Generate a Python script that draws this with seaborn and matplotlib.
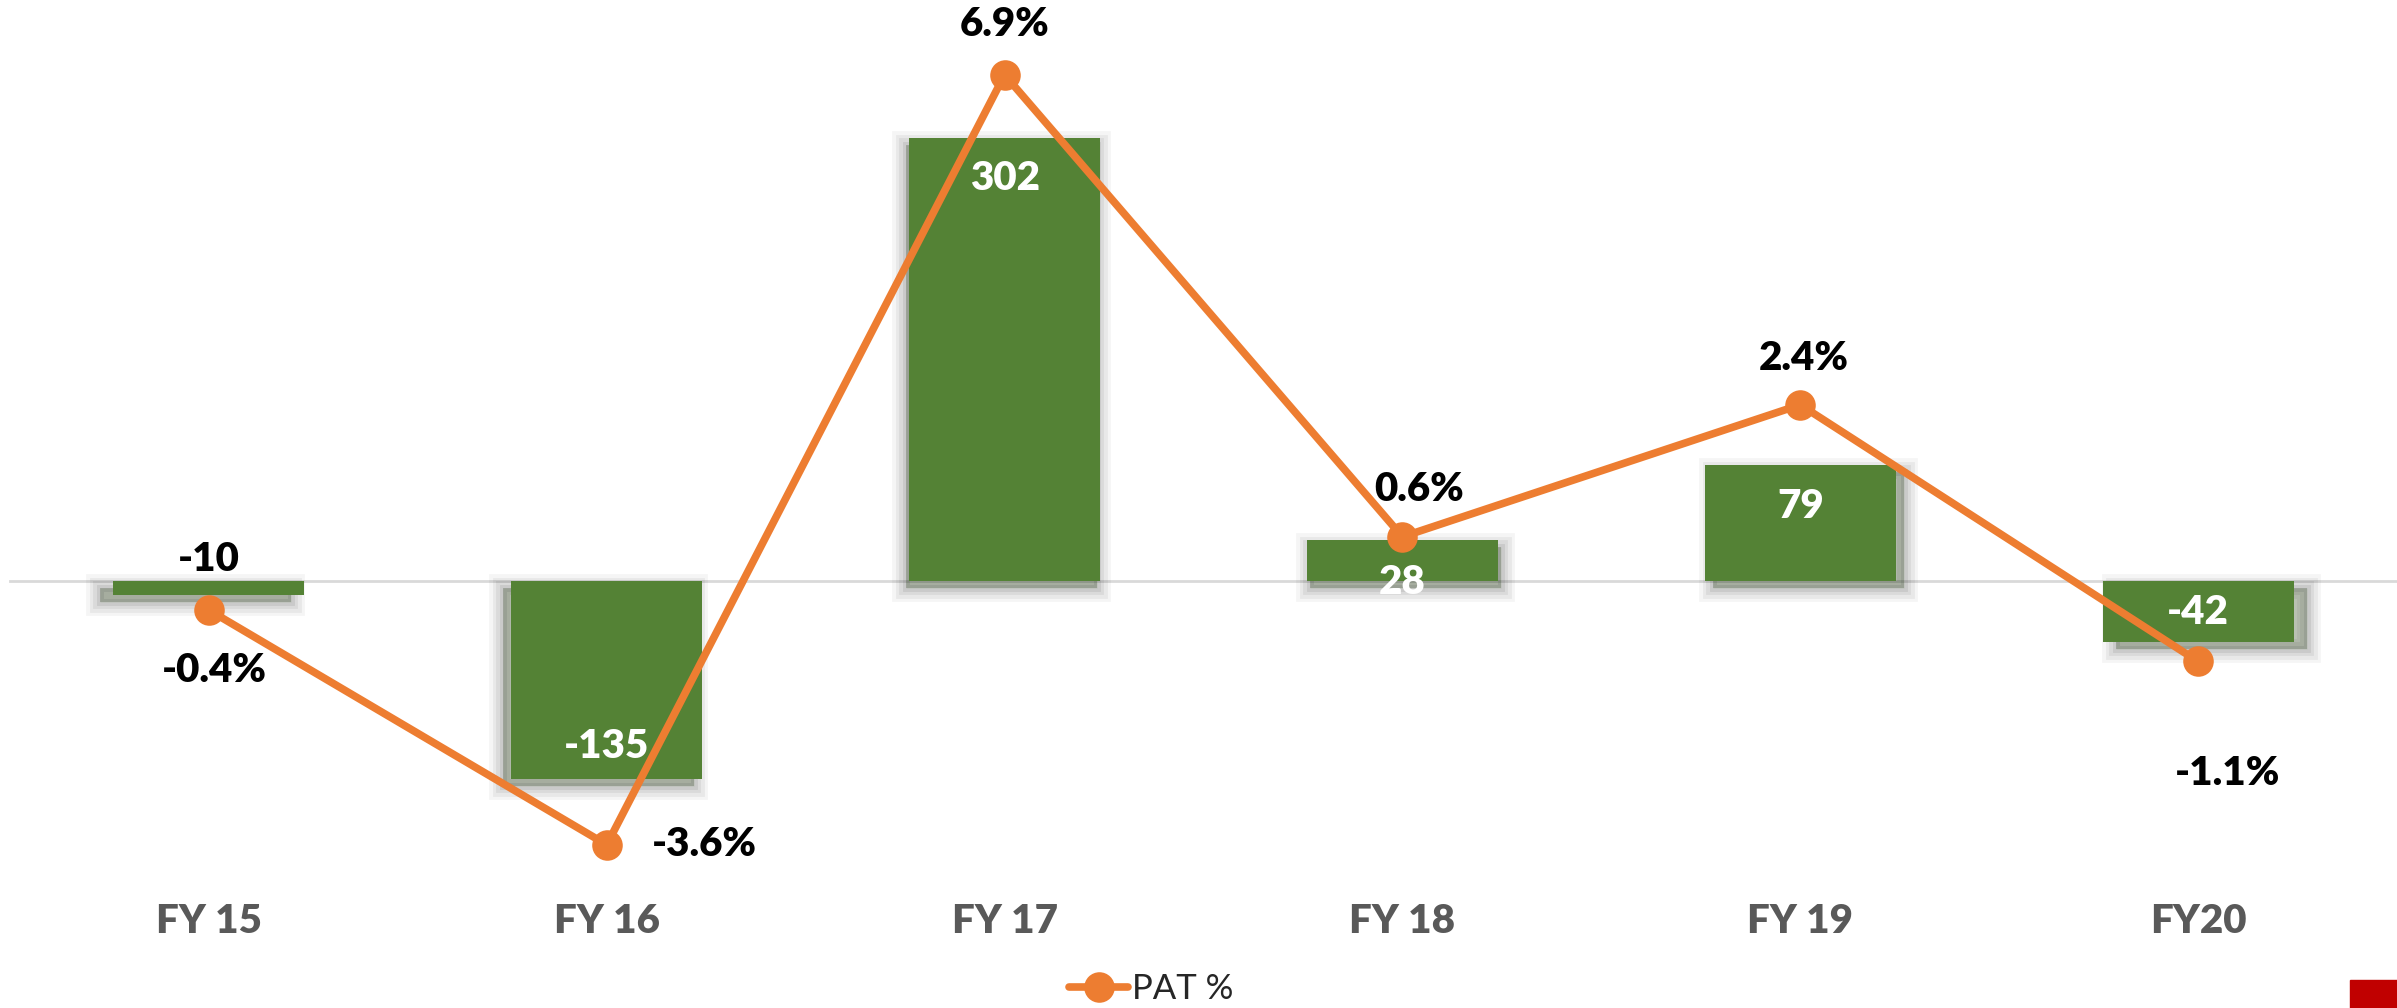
import numpy as np
import matplotlib
matplotlib.use("Agg")
import matplotlib.pyplot as plt
import matplotlib.patheffects as pe
from matplotlib.patches import Rectangle
import seaborn as sns

# data
years = ["FY 15", "FY 16", "FY 17", "FY 18", "FY 19", "FY20"]
pat = [-10, -135, 302, 28, 79, -42]          # PAT (bars)
pat_pct = [-0.4, -3.6, 6.9, 0.6, 2.4, -1.1]  # PAT % (line)
pct_labels = ["-0.4%", "-3.6%", "6.9%", "0.6%", "2.4%", "-1.1%"]

GREEN = "#548235"
ORANGE = "#ED7D31"
GREY = "#595959"

sns.set_style("white")
plt.rcParams["font.family"] = ["Lato", "DejaVu Sans"]

fig = plt.figure(figsize=(23.97, 10.08), dpi=100)
ax = fig.add_axes([10 / 2397, 1 - 880 / 1008, 2387 / 2397, 880 / 1008])

pos = np.arange(len(years))
sns.barplot(x=pos, y=pat, color=GREEN, width=0.48, saturation=1, ax=ax,
            native_scale=True)
ax.set_xlim(-0.5, len(years) - 0.5)
ax.set_ylim(-204, 396)

# soft drop shadow, pushed outwards from the middle of the chart
for i, p in enumerate(ax.patches):
    dx = (i - 2.5) * 4
    dy = -5
    fx = [pe.Stroke(offset=(dx, dy), linewidth=w, foreground="#000000", alpha=a)
          for w, a in [(20, 0.04), (15, 0.05), (10, 0.06), (5, 0.07)]]
    fx += [pe.SimplePatchShadow(offset=(dx, dy), shadow_rgbFace="#000000", alpha=0.12),
           pe.Normal()]
    p.set_path_effects(fx)
    p.set_linewidth(0)

# zero line with boundary ticks
for s in ["top", "right", "left"]:
    ax.spines[s].set_visible(False)
ax.spines["bottom"].set_position(("data", 0))
ax.spines["bottom"].set_color("#D9D9D9")
ax.spines["bottom"].set_linewidth(2)
ax.spines["bottom"].set_zorder(0.5)
ax.set_yticks([])
ax.set_xticks(pos)
ax.set_xticklabels(years, fontsize=29, fontweight="heavy", color=GREY)
ax.tick_params(axis="x", which="major", length=0, pad=232)
ax.set_xticks(pos[:-1] + 0.5, minor=True)
ax.tick_params(axis="x", which="minor", length=10, width=1.5, color="#D9D9D9",
               direction="out")

# line on secondary axis
ax2 = ax.twinx()
ax2.set_ylim(-204 / 50, 396 / 50)
sns.lineplot(x=pos, y=pat_pct, color=ORANGE, linewidth=5.5, marker="o",
             markersize=22, markeredgewidth=0, label="PAT %", ax=ax2,
             legend=False)
ax2.set_xlim(-0.5, len(years) - 0.5)
ax2.axis("off")

# bar value labels (inside end, -10 sits above the axis)
bar_off = [36, 32, -41, -43, -42, 30]
for i, v in enumerate(pat):
    col = "black" if i == 0 else "white"
    ax2.annotate(str(v), xy=(i, v), xycoords=ax.transData,
                 xytext=(0, bar_off[i]), textcoords="offset pixels",
                 ha="center", va="center", fontsize=29, fontweight="heavy",
                 color=col, zorder=10)

# percent labels
pct_off = [(5, -60), (98, 0), (0, 50), (17, 47), (3, 46), (29, -112)]
for i, v in enumerate(pat_pct):
    ax2.annotate(pct_labels[i], xy=(i, v), xytext=pct_off[i],
                 textcoords="offset pixels", ha="center", va="center",
                 fontsize=29, fontweight="heavy", color="black", zorder=10)

fig.legend(handles=ax2.get_lines(), labels=["PAT %"], loc="center",
           bbox_to_anchor=(1151 / 2397, 1 - 989 / 1008), frameon=False,
           fontsize=25, handlelength=1.7, handletextpad=0.1, labelcolor="#262626")

fig.add_artist(Rectangle((2350 / 2397, 0), 47 / 2397, 28 / 1008,
                         transform=fig.transFigure, color="#C00000"))

fig.savefig("out.png", dpi=100)
